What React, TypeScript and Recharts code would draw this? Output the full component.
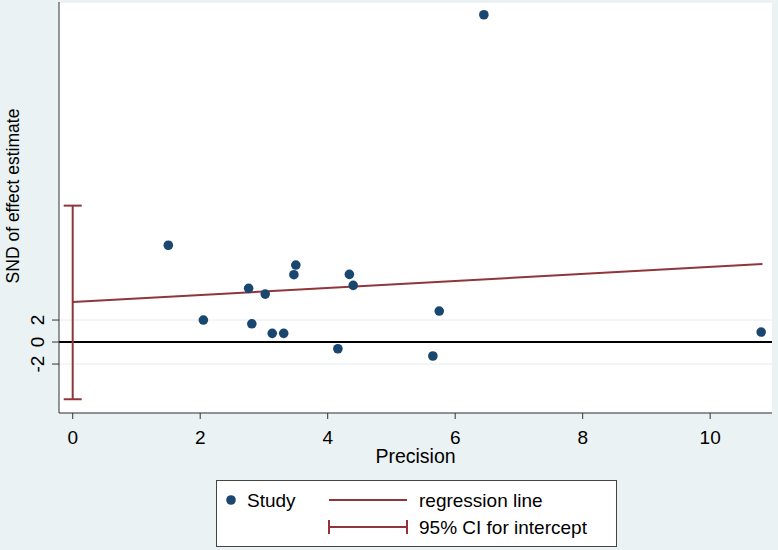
import {
  ComposedChart,
  Scatter,
  Line,
  XAxis,
  YAxis,
  CartesianGrid,
  ReferenceLine,
  ErrorBar,
} from 'recharts'

// studies
const precision = [1.5, 2.05, 2.76, 2.81, 3.02, 3.13, 3.31, 3.47, 3.5, 4.16, 4.34, 4.4, 5.65, 5.75, 6.45, 10.8]
const snd = [8.8, 2.0, 4.88, 1.66, 4.36, 0.79, 0.79, 6.12, 7.0, -0.61, 6.15, 5.15, -1.27, 2.82, 29.75, 0.91]

// regression line end points
const regX = [0, 10.82]
const regY = [3.64, 7.09]

// intercept and its 95% CI
const intercept = 3.64
const ciLow = -5.2
const ciHigh = 12.4

const xTicks = [0, 2, 4, 6, 8, 10]
const yTicks = [-2, 0, 2]
const legendLabels = ['Study', 'regression line', '95% CI for intercept']

const NAVY = '#1a476f'
const MAROON = '#90353b'
const BG = '#eaf2f3'
const FONT = '"Liberation Sans", Arial, sans-serif'

const studies = precision.map((x, i) => ({ x, y: snd[i] }))
const regression = regX.map((x, i) => ({ x, y: regY[i] }))
const ci = [{ x: 0, y: intercept, err: [intercept - ciLow, ciHigh - intercept] }]

function Dot(props: any) {
  const { cx, cy } = props
  return <circle cx={cx} cy={cy} r={4.8} fill={NAVY} />
}

function YTick(props: any) {
  const { x, y, payload } = props
  const bx = x - 6
  return (
    <text
      x={bx}
      y={y}
      transform={`rotate(-90 ${bx} ${y})`}
      textAnchor="middle"
      fontSize={19}
      fontFamily={FONT}
      fill="#000"
    >
      {payload.value}
    </text>
  )
}

function YTitle() {
  return (
    <text
      x={13}
      y={196}
      transform="rotate(-90 13 196)"
      textAnchor="middle"
      dominantBaseline="central"
      fontSize={17.5}
      fontFamily={FONT}
      fill="#000"
    >
      SND of effect estimate
    </text>
  )
}

function LegendBox() {
  return (
    <svg width={402} height={68} style={{ position: 'absolute', left: 216, top: 480 }}>
      <rect x={0.5} y={0.5} width={400} height={66} fill="#fff" stroke="#444" />
      <circle cx={15} cy={20} r={4.8} fill={NAVY} />
      <text x={31} y={27} fontSize={19} fontFamily={FONT} fill="#000">
        {legendLabels[0]}
      </text>
      <line x1={113} x2={191} y1={20} y2={20} stroke={MAROON} strokeWidth={2} />
      <text x={203} y={27} fontSize={19} fontFamily={FONT} fill="#000">
        {legendLabels[1]}
      </text>
      <line x1={113} x2={191} y1={47} y2={47} stroke={MAROON} strokeWidth={2} />
      <line x1={113} x2={113} y1={40} y2={54} stroke={MAROON} strokeWidth={2} />
      <line x1={191} x2={191} y1={40} y2={54} stroke={MAROON} strokeWidth={2} />
      <text x={203} y={54} fontSize={19} fontFamily={FONT} fill="#000">
        {legendLabels[2]}
      </text>
    </svg>
  )
}

export default function App() {
  return (
    <div style={{ position: 'absolute', left: 0, top: 0, width: 778, height: 550, background: BG }}>
      <ComposedChart width={778} height={550} margin={{ top: 2, right: 6, bottom: 67, left: 0 }}>
        <CartesianGrid fill="#fff" vertical={false} stroke="#e3ecef" />
        <XAxis
          type="number"
          dataKey="x"
          domain={[-0.215, 10.97]}
          ticks={xTicks}
          interval={0}
          allowDataOverflow
          height={70}
          tickSize={6}
          tickMargin={12}
          tick={{ fill: '#000', fontSize: 19, fontFamily: FONT }}
          axisLine={{ stroke: '#333' }}
          tickLine={{ stroke: '#333' }}
          label={{ value: 'Precision', position: 'insideBottom', offset: 20, fill: '#000', fontSize: 19.5, fontFamily: FONT }}
        />
        <YAxis
          type="number"
          dataKey="y"
          domain={[-6.45, 30.91]}
          ticks={yTicks}
          interval={0}
          allowDataOverflow
          width={59}
          tickSize={7}
          tick={<YTick />}
          axisLine={{ stroke: '#333' }}
          tickLine={{ stroke: '#333' }}
          label={<YTitle />}
        />
        <ReferenceLine y={0} stroke="#000" strokeWidth={2} />
        <Line
          data={regression}
          dataKey="y"
          stroke={MAROON}
          strokeWidth={2}
          dot={false}
          isAnimationActive={false}
        />
        <Scatter data={ci} dataKey="y" shape={() => <g />} isAnimationActive={false}>
          <ErrorBar dataKey="err" direction="y" width={9} stroke={MAROON} strokeWidth={2} isAnimationActive={false} />
        </Scatter>
        <Scatter data={studies} dataKey="y" shape={<Dot />} isAnimationActive={false} />
      </ComposedChart>
      <LegendBox />
    </div>
  )
}
